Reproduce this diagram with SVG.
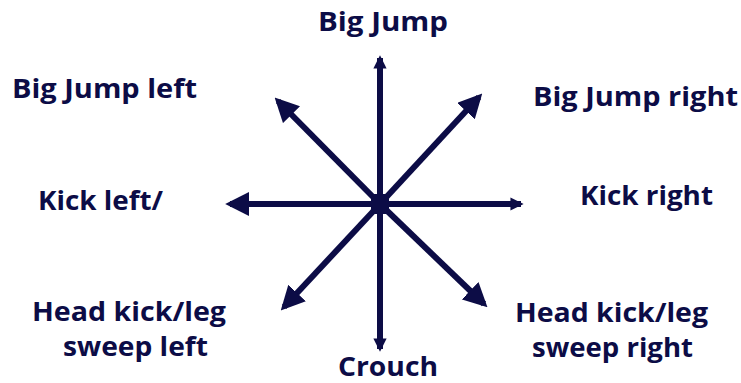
<svg xmlns="http://www.w3.org/2000/svg" width="741" height="383" viewBox="0 0 741 383">
<defs>
<style>
.t{font-family:"Open Sans","Liberation Sans",sans-serif;font-weight:700;font-size:27px;fill:#0c0c46}
.c{stroke:#0c0c46;stroke-width:6;fill:none}
</style>
<marker id="big" viewBox="0 0 10 10" refX="8" refY="5" markerWidth="4" markerHeight="4" orient="auto" markerUnits="strokeWidth">
<path d="M0,0 L10,5 L0,10 Z" fill="#0c0c46"/>
</marker>
<marker id="small" viewBox="0 0 10 10" refX="8" refY="5" markerWidth="2.2" markerHeight="2.2" orient="auto" markerUnits="strokeWidth">
<path d="M0,0 L10,5 L0,10 Z" fill="#0c0c46"/>
</marker>
</defs>
<rect width="741" height="383" fill="#ffffff"/>
<g id="connectors">
<line class="c" x1="380" y1="204" x2="380" y2="58" marker-end="url(#small)"/>
<line class="c" x1="380" y1="204" x2="380" y2="349" marker-end="url(#small)"/>
<line class="c" x1="380" y1="204" x2="230" y2="204" marker-end="url(#big)"/>
<line class="c" x1="380" y1="204" x2="521" y2="204" marker-end="url(#small)"/>
<line class="c" x1="380" y1="204" x2="278" y2="101" marker-end="url(#big)"/>
<line class="c" x1="380" y1="204" x2="479" y2="97" marker-end="url(#big)"/>
<line class="c" x1="380" y1="204" x2="284" y2="307" marker-end="url(#big)"/>
<line class="c" x1="380" y1="204" x2="484" y2="304" marker-end="url(#big)"/>
<rect x="371" y="194" width="18" height="20" fill="#0c0c46"/>
</g>
<g id="up"><text class="t" x="318" y="31" textLength="130" lengthAdjust="spacingAndGlyphs">Big Jump</text></g>
<g id="upleft"><text class="t" x="12" y="98" textLength="185" lengthAdjust="spacingAndGlyphs">Big Jump left</text></g>
<g id="upright"><text class="t" x="533" y="106" textLength="205" lengthAdjust="spacingAndGlyphs">Big Jump right</text></g>
<g id="left"><text class="t" x="38" y="210" textLength="125" lengthAdjust="spacingAndGlyphs">Kick left/</text></g>
<g id="right"><text class="t" x="580" y="205" textLength="133" lengthAdjust="spacingAndGlyphs">Kick right</text></g>
<g id="downleft"><text class="t" x="32" y="321" textLength="194" lengthAdjust="spacingAndGlyphs">Head kick/leg</text><text class="t" x="63" y="356" textLength="145" lengthAdjust="spacingAndGlyphs">sweep left</text></g>
<g id="downright"><text class="t" x="515" y="322" textLength="193" lengthAdjust="spacingAndGlyphs">Head kick/leg</text><text class="t" x="532" y="357" textLength="161" lengthAdjust="spacingAndGlyphs">sweep right</text></g>
<g id="down"><text class="t" x="338" y="376" textLength="100" lengthAdjust="spacingAndGlyphs">Crouch</text></g>
</svg>
